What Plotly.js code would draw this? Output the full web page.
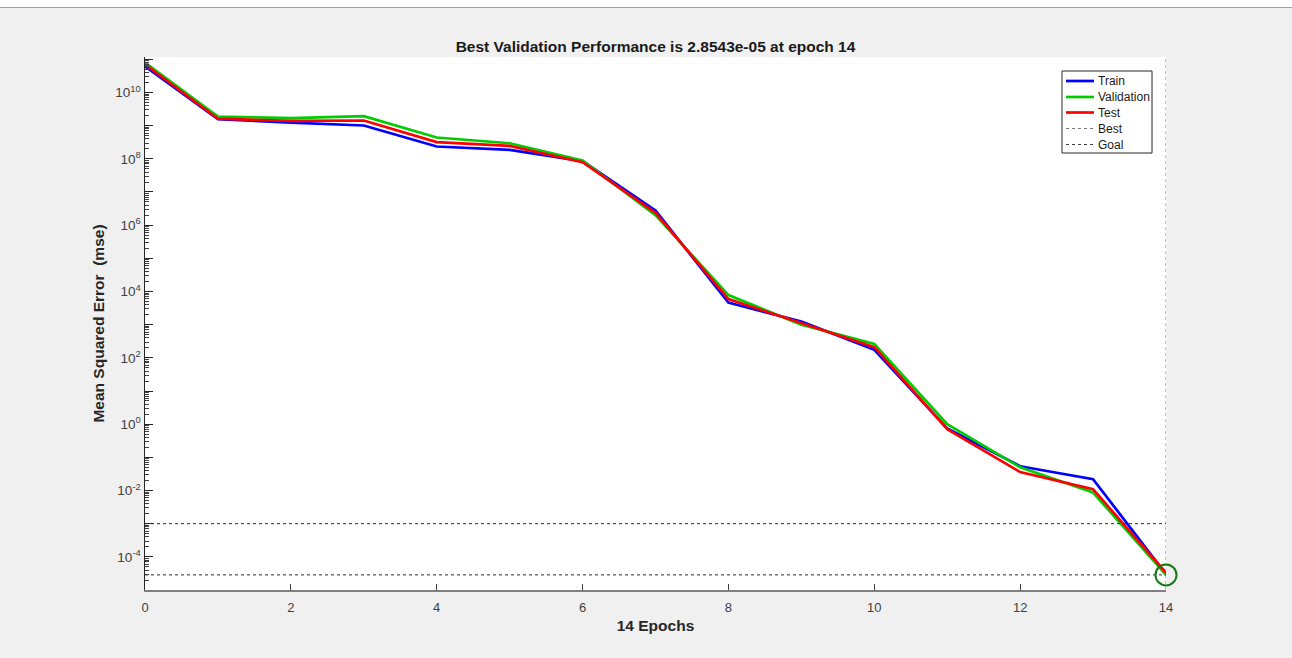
<!DOCTYPE html>
<html>
<head>
<meta charset="utf-8">
<script src="https://cdn.plot.ly/plotly-3.0.1.min.js"></script>
<style>
  html, body { margin: 0; padding: 0; background: #ffffff; }
  #wrap { position: absolute; left: 0; top: 7px; width: 1292px; height: 651px; border-top: 1px solid #a0a0a0; background: #f0f0f0; }
  #plot { width: 1292px; height: 650px; }
</style>
</head>
<body>
<div id="wrap"><div id="plot"></div></div>
<script>
// ---- data ----
const epochs = [0, 1, 2, 3, 4, 5, 6, 7, 8, 9, 10, 11, 12, 13, 14];
const trainPerf = [6.2e10, 1.57e9, 1.24e9, 1.01e9, 2.35e8, 1.86e8, 8.5e7, 2.75e6, 4.6e3, 1.25e3, 1.75e2, 0.74, 0.054, 0.022, 3.0e-5];
const valPerf   = [8.0e10, 1.89e9, 1.69e9, 1.94e9, 4.4e8, 2.95e8, 8.9e7, 2.0e6, 7.8e3, 1.0e3, 2.6e2, 1.0, 0.05, 0.0087, 2.8543e-5];
const testPerf  = [7.1e10, 1.62e9, 1.40e9, 1.43e9, 3.2e8, 2.45e8, 7.9e7, 2.35e6, 5.9e3, 1.12e3, 2.1e2, 0.71, 0.036, 0.011, 3.3e-5];
const bestEpoch = 14;
const bestPerf = 2.8543e-5;
const goalPerf = 1e-3;
const yTickExp = [-4, -3, -2, -1, 0, 1, 2, 3, 4, 5, 6, 7, 8, 9, 10, 11];
const xTicks = [0, 2, 4, 6, 8, 10, 12, 14];
const legendNames = ["Train", "Validation", "Test", "Best", "Goal"];
const titleText = "Best Validation Performance is 2.8543e-05 at epoch 14";
const xTitle = "14 Epochs";
const yTitle = "Mean Squared Error  (mse)";

// ---- styles ----
const colTrain = "rgb(0,0,255)", colVal = "rgb(0,204,0)", colTest = "rgb(255,0,0)";
const colBest = "rgb(70,175,70)", colRef = "rgb(40,40,40)";
const yLogMin = -5, yLogMax = 11.07;
const yTickVals = yTickExp.map(e => Math.pow(10, e));
const yTickText = yTickExp.map(e => (e % 2 === 0) ? "10<sup>" + e + "</sup>" : "");
const FONT = "Liberation Sans, Arial, Helvetica, sans-serif";

// plot area in page pixels (for placing the legend box)
const PL = 145, PR = 1166, PT = 57, PB = 590;
const xp = X => (X - PL) / (PR - PL);
const yp = Y => (PB - Y) / (PB - PT);

const traces = [
  { x: epochs, y: trainPerf, name: "Train", mode: "lines", line: { color: colTrain, width: 2.7 } },
  { x: epochs, y: valPerf, name: "Validation", mode: "lines", line: { color: colVal, width: 2.7 } },
  { x: epochs, y: testPerf, name: "Test", mode: "lines", line: { color: colTest, width: 2.7 } },
  { x: [bestEpoch, bestEpoch], y: [Math.pow(10, yLogMin), Math.pow(10, yLogMax)], name: "Best", mode: "lines",
    line: { color: colBest, width: 1, dash: "dot" } },
  { x: [0, bestEpoch], y: [bestPerf, bestPerf], name: "Best", mode: "lines",
    line: { color: colRef, width: 1, dash: "dot" } },
  { x: [0, bestEpoch], y: [goalPerf, goalPerf], name: "Goal", mode: "lines",
    line: { color: colRef, width: 1, dash: "dot" } },
  { x: [bestEpoch], y: [bestPerf], mode: "markers", cliponaxis: false,
    marker: { symbol: "circle-open", size: 21, color: "rgb(20,120,20)", line: { width: 2, color: "rgb(20,120,20)" } } }
];

// custom legend (box, samples, labels)
const legRowsY = [81, 97, 112.5, 128.5, 144.5];
const legStyles = [
  { color: colTrain, width: 2.7, dash: "solid" },
  { color: colVal, width: 2.7, dash: "solid" },
  { color: colTest, width: 2.7, dash: "solid" },
  { color: "rgb(120,120,120)", width: 1, dash: "dot" },
  { color: "rgb(60,60,60)", width: 1, dash: "dot" }
];
const shapes = [
  { type: "rect", xref: "paper", yref: "paper", x0: xp(1062), x1: xp(1152), y0: yp(153), y1: yp(71),
    fillcolor: "#ffffff", line: { color: "#262626", width: 1 }, layer: "above" }
];
const annotations = [];
legendNames.forEach((n, i) => {
  shapes.push({ type: "line", xref: "paper", yref: "paper", x0: xp(1066), x1: xp(1094),
    y0: yp(legRowsY[i]), y1: yp(legRowsY[i]), line: legStyles[i], layer: "above" });
  annotations.push({ xref: "paper", yref: "paper", x: xp(1096), y: yp(legRowsY[i]), text: n,
    showarrow: false, xanchor: "left", yanchor: "middle", font: { family: FONT, size: 12, color: "#1a1a1a" } });
});

const layout = {
  width: 1292, height: 650,
  paper_bgcolor: "#f0f0f0",
  plot_bgcolor: "#ffffff",
  margin: { l: 145, r: 126, t: 49, b: 68, pad: 0 },
  font: { family: FONT, size: 12, color: "#404040" },
  title: { text: "<b>" + titleText + "</b>", font: { family: FONT, size: 15.5, color: "#1a1a1a" },
           x: 0.5, xref: "paper", xanchor: "center", y: 1, yref: "paper", yanchor: "bottom", pad: { b: 5 } },
  xaxis: {
    range: [0, 14], tickvals: xTicks, ticktext: xTicks.map(String),
    ticks: "inside", ticklen: 6, tickcolor: "#404040", tickwidth: 1,
    showline: true, linecolor: "#808080", linewidth: 1.5, mirror: false,
    showgrid: false, zeroline: false, ticklabelstandoff: 5,
    tickfont: { family: FONT, size: 13, color: "#404040" },
    title: { text: "<b>" + xTitle + "</b>", font: { family: FONT, size: 15.5, color: "#262626" }, standoff: 6 }
  },
  yaxis: {
    type: "log", range: [yLogMin, yLogMax],
    tickvals: yTickVals, ticktext: yTickText,
    ticks: "inside", ticklen: 8, tickcolor: "#262626", tickwidth: 1,
    minor: { ticks: "inside", ticklen: 4, tickcolor: "#404040", dtick: "D1", showgrid: false },
    showline: true, linecolor: "#262626", linewidth: 1.5, mirror: false,
    showgrid: false, zeroline: false,
    tickfont: { family: FONT, size: 13.5, color: "#404040" },
    title: { text: "<b>" + yTitle + "</b>", font: { family: FONT, size: 15.5, color: "#262626" }, standoff: 7 }
  },
  showlegend: false,
  shapes: shapes,
  annotations: annotations
};

Plotly.newPlot("plot", traces, layout, { displayModeBar: false, staticPlot: true });
</script>
</body>
</html>
